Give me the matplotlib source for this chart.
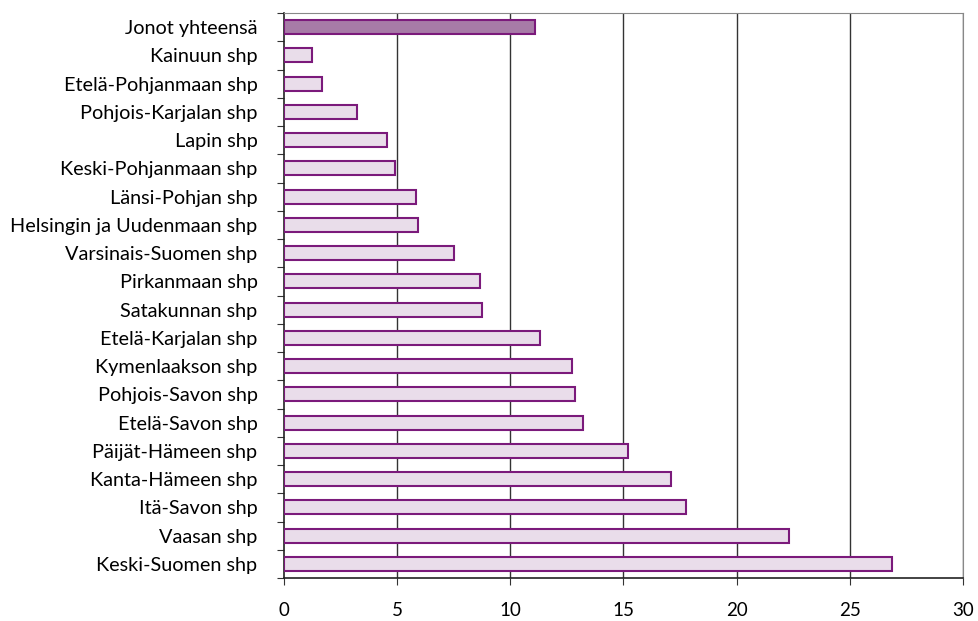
import matplotlib
matplotlib.use("Agg")
import matplotlib.pyplot as plt

categories = ["Jonot yhteensä", "Kainuun shp", "Etelä-Pohjanmaan shp", "Pohjois-Karjalan shp",
              "Lapin shp", "Keski-Pohjanmaan shp", "Länsi-Pohjan shp",
              "Helsingin ja Uudenmaan shp", "Varsinais-Suomen shp", "Pirkanmaan shp",
              "Satakunnan shp", "Etelä-Karjalan shp", "Kymenlaakson shp", "Pohjois-Savon shp",
              "Etelä-Savon shp", "Päijät-Hämeen shp", "Kanta-Hämeen shp", "Itä-Savon shp",
              "Vaasan shp", "Keski-Suomen shp"]
values = [11.09, 1.24, 1.68, 3.23, 4.55, 4.9, 5.83, 5.92, 7.51, 8.66, 8.75, 11.3,
          12.73, 12.86, 13.2, 15.2, 17.1, 17.76, 22.3, 26.87]
xticks = [0, 5, 10, 15, 20, 25, 30]

plt.rcParams['font.family'] = ['Lato', 'DejaVu Sans']

fig = plt.figure(figsize=(9.79, 6.21), dpi=100)
ax = fig.add_axes([0.290, 0.0692, 0.6937, 0.9098])

n = len(categories)
ypos = list(range(n))
colors = ['#A77BA7' if i == 0 else '#E9DDEA' for i in range(n)]
ax.barh(ypos, values, height=0.5, color=colors, edgecolor='#7B1A7B', linewidth=1.5, zorder=3)

ax.set_ylim(n - 0.5, -0.5)
ax.set_xlim(0, 30)
ax.set_xticks(xticks)
ax.set_xticklabels([str(x) for x in xticks], fontsize=13.5)
ax.set_yticks([i + 0.5 for i in range(-1, n)], minor=False)
ax.set_yticklabels([])
ax.set_yticks(ypos, minor=True)
ax.set_yticklabels(categories, minor=True, fontsize=14.3)
ax.tick_params(axis='y', which='minor', length=0, pad=19)
ax.tick_params(axis='y', which='major', length=5, color='#333333')
ax.tick_params(axis='x', length=5, pad=12, color='#333333')

for x in xticks[1:]:
    ax.axvline(x, color='#333333', linewidth=1, zorder=1)

for s in ['left', 'bottom']:
    ax.spines[s].set_color('#222222')
    ax.spines[s].set_linewidth(1.2)
ax.spines['top'].set_color('#888888')
ax.spines['right'].set_color('#888888')

fig.savefig('out.png', dpi=100)
